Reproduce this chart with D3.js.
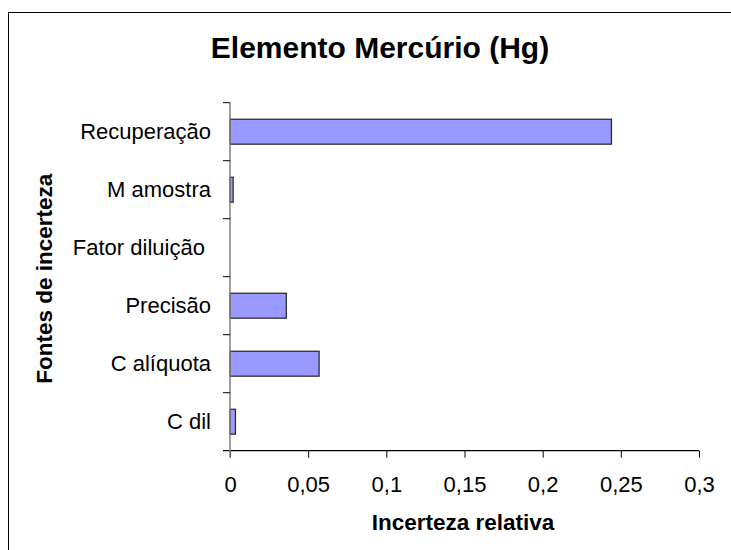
<!DOCTYPE html>
<html>
<head>
    <meta charset="utf-8">
    <script src="https://d3js.org/d3.v7.min.js"></script>
    <style>
        body { margin: 0; background: #fff; }
        text { font-family: "Liberation Sans", Arial, sans-serif; fill: #000; }
    </style>
</head>
<body>
<script type="text/javascript">
    // data (top to bottom)
    let categories = ["Recuperação", "M amostra", "Fator diluição ", "Precisão", "C alíquota", "C dil"];
    let values = [0.244, 0.002, 0, 0.036, 0.057, 0.0035];
    let xTicks = [0, 0.05, 0.1, 0.15, 0.2, 0.25, 0.3];

    let width = 731,
        height = 550;
    let plot = {left: 230, right: 699, top: 102.7, bottom: 450.7};
    let labelSize = "22px";

    let svg = d3.select("body").append("svg")
        .attr("width", width)
        .attr("height", height);

    // outer chart border (runs off the page on the right/bottom)
    svg.append("rect")
        .attr("x", 8.5).attr("y", 12.5)
        .attr("width", 740).attr("height", 560)
        .style("fill", "none")
        .style("stroke", "#000")
        .style("stroke-width", 1);

    let x = d3.scaleLinear()
        .domain([0, 0.3])
        .range([plot.left, plot.right]);

    let y = d3.scaleBand()
        .domain(categories)
        .range([plot.top, plot.bottom])
        .paddingInner(0.57)
        .paddingOuter(0.285);

    let yTicks = d3.scaleBand().domain(categories).range([plot.top, plot.bottom]);

    // bars
    svg.selectAll("rect.bar")
        .data(categories)
        .join("rect")
            .attr("class", "bar")
            .attr("x", x(0))
            .attr("y", d => y(d))
            .attr("width", (d, i) => x(values[i]) - x(0))
            .attr("height", y.bandwidth())
            .style("fill", "#9999ff")
            .style("stroke", "#222")
            .style("stroke-width", 1.2)
            .style("display", (d, i) => values[i] > 0 ? null : "none");

    // x axis
    let xAxis = svg.append("g")
        .attr("transform", `translate(0,${plot.bottom})`)
        .call(d3.axisBottom(x)
            .tickValues(xTicks)
            .tickSize(7)
            .tickFormat(d => String(d).replace(".", ",")));
    xAxis.select(".domain").attr("d", `M${plot.left - 7},0H${plot.right}`)
        .style("stroke", "#000").style("stroke-width", 1.2);
    xAxis.selectAll(".tick line").style("stroke", "#000");
    xAxis.selectAll(".tick text")
        .attr("dy", null)
        .attr("y", 41)
        .style("font-size", labelSize)
        .style("font-family", "'Liberation Sans', Arial, sans-serif");

    // y axis (ticks between categories)
    let yAxis = svg.append("g");
    yAxis.append("line")
        .attr("x1", plot.left).attr("x2", plot.left)
        .attr("y1", plot.top).attr("y2", plot.bottom + 7)
        .style("stroke", "#808080")
        .style("stroke-width", 1.5);
    yAxis.selectAll("line.tick")
        .data(categories)
        .join("line")
            .attr("class", "tick")
            .attr("x1", plot.left - 7).attr("x2", plot.left)
            .attr("y1", d => yTicks(d)).attr("y2", d => yTicks(d))
            .style("stroke", "#000");
    yAxis.selectAll("text")
        .data(categories)
        .join("text")
            .attr("x", plot.left - 19)
            .attr("y", d => yTicks(d) + yTicks.bandwidth() / 2)
            .attr("dy", "0.35em")
            .attr("text-anchor", "end")
            .style("font-size", labelSize)
            .style("white-space", "pre")
            .text(d => d);

    // titles
    svg.append("text")
        .attr("x", 380).attr("y", 58)
        .attr("text-anchor", "middle")
        .style("font-size", "30px")
        .style("font-weight", "bold")
        .text("Elemento Mercúrio (Hg)");

    svg.append("text")
        .attr("x", 463).attr("y", 530)
        .attr("text-anchor", "middle")
        .style("font-size", "22.5px")
        .style("font-weight", "bold")
        .text("Incerteza relativa");

    svg.append("text")
        .attr("transform", `translate(51.5,${(plot.top + plot.bottom) / 2 + 2}) rotate(-90)`)
        .attr("text-anchor", "middle")
        .style("font-size", "22.5px")
        .style("font-weight", "bold")
        .text("Fontes de incerteza");
</script>
</body>
</html>
